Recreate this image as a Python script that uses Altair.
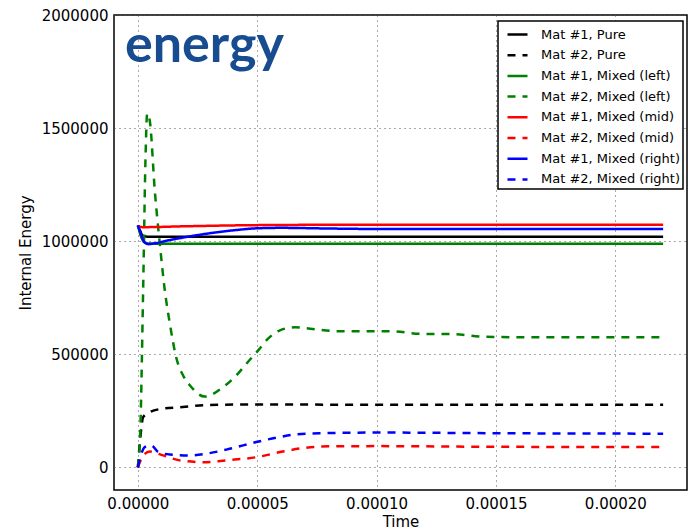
import altair as alt
import pandas as pd

# Series names (legend order) and their styles
names = [
    "Mat #1, Pure", "Mat #2, Pure",
    "Mat #1, Mixed (left)", "Mat #2, Mixed (left)",
    "Mat #1, Mixed (mid)", "Mat #2, Mixed (mid)",
    "Mat #1, Mixed (right)", "Mat #2, Mixed (right)",
]
colors = ["black", "black", "#008000", "#008000", "#ff0000", "#ff0000", "#0000ff", "#0000ff"]
dashes = [[1, 0], [8, 7]] * 4

# Time samples and internal energy for each material / cell
t_pure1 = [0, 1e-6, 2e-6, 4e-6, 2.2e-4]
e_pure1 = [1070000, 1045000, 1025000, 1020000, 1020000]

t_pure2 = [0, 1.2e-6, 2.2e-6, 5e-6, 1e-5, 1.75e-5, 3e-5, 5e-5, 1e-4, 1.5e-4, 2.2e-4]
e_pure2 = [0, 150000, 222000, 244000, 259000, 266000, 276000, 278000, 277000, 277000, 277000]

t_left1 = [0, 1e-6, 2e-6, 3e-6, 4.5e-6, 1e-5, 2.2e-4]
e_left1 = [1070000, 1030000, 1005000, 994000, 990000, 989000, 989000]

t_left2 = [0, 1.1e-6, 2.2e-6, 3.2e-6, 3.9e-6, 5e-6, 7.1e-6, 9.2e-6, 1.13e-5, 1.34e-5,
           1.62e-5, 1.9e-5, 2.2e-5, 2.8e-5, 3.56e-5, 4.12e-5, 4.6e-5, 5.03e-5, 5.44e-5,
           5.93e-5, 6.56e-5, 7.32e-5, 8.44e-5, 1.05e-4, 1.2e-4, 1.31e-4, 1.44e-4, 1.62e-4,
           1.94e-4, 2.2e-4]
e_left2 = [0, 196000, 781000, 1368000, 1565000, 1531000, 1222000, 987000, 781000, 635000,
           480000, 405000, 360000, 313000, 354000, 406000, 465000, 516000, 568000,
           605000, 619000, 612000, 602000, 602000, 590000, 590000, 578000, 575000,
           575000, 575000]

t_mid1 = [0, 2e-6, 2e-5, 5e-5, 1e-4, 2.2e-4]
e_mid1 = [1068000, 1062000, 1066000, 1071000, 1073000, 1073000]

t_mid2 = [0, 8e-7, 2.9e-6, 5e-6, 1.06e-5, 1.75e-5, 2.87e-5, 3.7e-5, 4.96e-5, 6.07e-5,
          6.9e-5, 8e-5, 1.01e-4, 1.5e-4, 2.2e-4]
e_mid2 = [0, 23000, 60000, 70000, 53000, 31000, 23000, 31000, 45000, 70000,
          85000, 93000, 94000, 91000, 90000]

t_right1 = [0, 1e-6, 2e-6, 3e-6, 4.5e-6, 7e-6, 1.2e-5, 2e-5, 3e-5, 4e-5, 5e-5, 6e-5,
            8e-5, 1e-4, 2.2e-4]
e_right1 = [1070000, 1040000, 1010000, 993000, 987000, 990000, 1002000, 1018000, 1035000,
            1048000, 1057000, 1059000, 1056000, 1054000, 1054000]

t_right2 = [0, 2.9e-6, 5.7e-6, 8.5e-6, 1.34e-5, 2.17e-5, 3e-5, 3.84e-5, 4.96e-5, 5.93e-5,
            6.63e-5, 7.6e-5, 1.01e-4, 1.5e-4, 2.2e-4]
e_right2 = [0, 90000, 97000, 68000, 57000, 53000, 63000, 82000, 112000, 134000,
            146000, 151000, 154000, 151000, 149000]

series = [
    (t_pure1, e_pure1), (t_pure2, e_pure2),
    (t_left1, e_left1), (t_left2, e_left2),
    (t_mid1, e_mid1), (t_mid2, e_mid2),
    (t_right1, e_right1), (t_right2, e_right2),
]

rows = []
for name, (ts, es) in zip(names, series):
    for i, (t, e) in enumerate(zip(ts, es)):
        rows.append({"series": name, "time": t, "energy": e, "idx": i})
df = pd.DataFrame(rows)

legend = alt.Legend(
    title=None, orient="none", legendX=384, legendY=6,
    fillColor="white", strokeColor="black", padding=2,
    cornerRadius=0, symbolType="stroke", symbolSize=400, symbolStrokeWidth=2.5,
    symbolOffset=6,
    labelFont="DejaVu Sans", labelFontSize=13, labelColor="black", labelOffset=12,
    rowPadding=1.7, labelLimit=300,
)

lines = alt.Chart(df).mark_line(strokeWidth=2.5, interpolate="monotone").encode(
    x=alt.X("time:Q", title="Time",
            scale=alt.Scale(domain=[-0.00001, 0.00023], nice=False, zero=False),
            axis=alt.Axis(values=[0, 0.00005, 0.0001, 0.00015, 0.0002], format=".5f")),
    y=alt.Y("energy:Q", title="Internal Energy",
            scale=alt.Scale(domain=[-100000, 2000000], nice=False),
            axis=alt.Axis(values=[0, 500000, 1000000, 1500000, 2000000], format="d")),
    color=alt.Color("series:N", scale=alt.Scale(domain=names, range=colors),
                    sort=names, legend=legend),
    strokeDash=alt.StrokeDash("series:N", scale=alt.Scale(domain=names, range=dashes),
                              sort=names, legend=legend),
    detail="series:N",
    order="idx:Q",
)

logo = alt.Chart(pd.DataFrame({"label": ["energy"]})).mark_text(
    font="Lato", fontWeight="bold", fontSize=52, color="#184c90",
    align="left", baseline="alphabetic",
).encode(text="label:N", x=alt.value(11), y=alt.value(47))

chart = alt.layer(lines, logo).properties(
    width=573, height=475,
    autosize=alt.AutoSizeParams(type="none"),
    padding={"left": 114, "top": 15, "right": 5, "bottom": 41},
).configure_view(
    stroke="black", strokeWidth=1.5,
).configure_axis(
    labelFont="DejaVu Sans", labelFontSize=15, labelColor="black",
    titleFont="DejaVu Sans", titleFontSize=15, titleFontWeight="normal", titleColor="black",
    grid=True, gridDash=[1, 4], gridColor="#555", gridOpacity=1, gridWidth=1,
    domain=False, ticks=False, labelPadding=6,
).configure_axisY(
    titlePadding=8,
).configure_axisX(
    titlePadding=3,
).configure_legend(
    strokeWidth=1.5,
)

chart.save("out.html", embed_options={"renderer": "svg", "actions": False})
